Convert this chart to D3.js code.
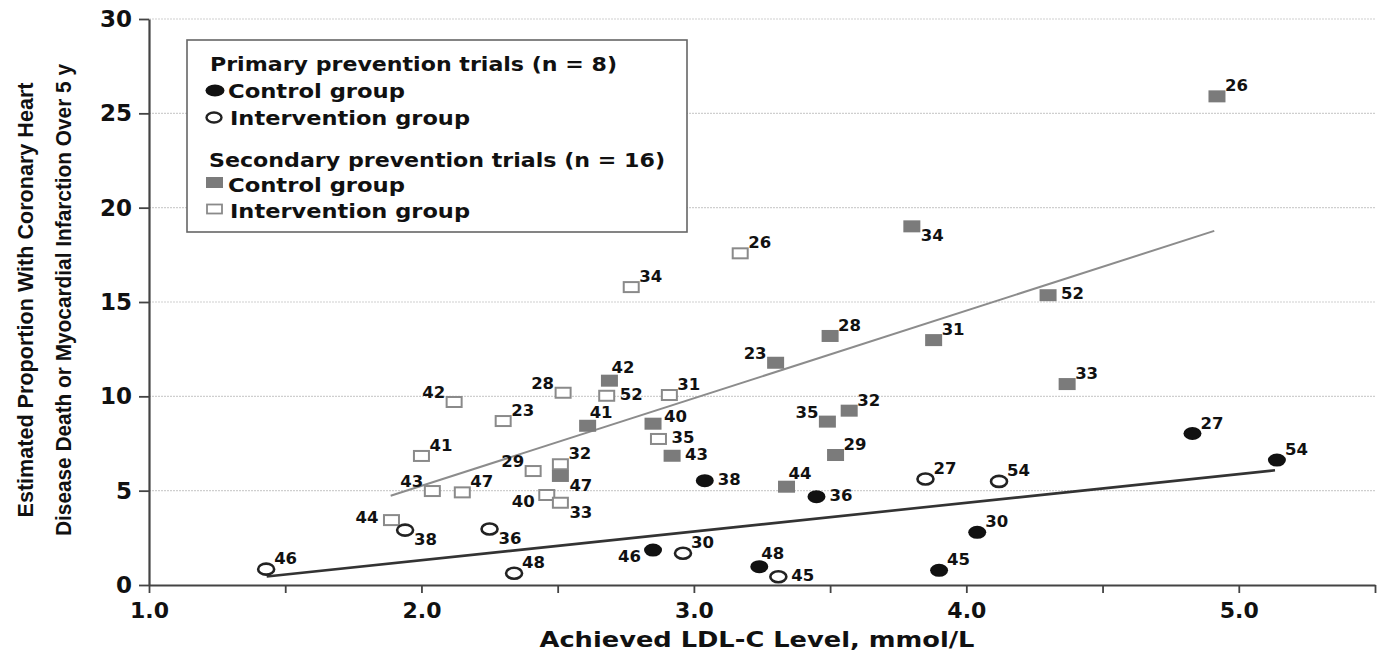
<!DOCTYPE html>
<html><head><meta charset="utf-8">
<script src="https://cdn.jsdelivr.net/npm/d3@7"></script>
<style>body{margin:0;background:#fff}svg{display:block}</style>
</head><body><svg id="c" width="1385" height="662"></svg>
<script>
// ---- data ----
const xTicks = [1.0, 1.5, 2.0, 2.5, 3.0, 3.5, 4.0, 4.5, 5.0, 5.5];
const xTickLabels = ["1.0", "", "2.0", "", "3.0", "", "4.0", "", "5.0", ""];
const yTicks = [0, 5, 10, 15, 20, 25, 30];

// Primary prevention, control group (filled circles)
const pcLabels = ["46", "38", "48", "36", "45", "30", "27", "54"];
const pcX = [2.85, 3.04, 3.24, 3.45, 3.90, 4.04, 4.83, 5.14];
const pcY = [1.85, 5.53, 0.97, 4.68, 0.78, 2.79, 8.03, 6.62];
const pcPos = ["sw", "e", "n", "e", "ne", "ne", "ne", "ne"];

// Primary prevention, intervention group (open circles)
const piLabels = ["46", "38", "36", "48", "30", "45", "27", "54"];
const piX = [1.43, 1.94, 2.25, 2.34, 2.96, 3.31, 3.85, 4.12];
const piY = [0.84, 2.91, 2.97, 0.62, 1.68, 0.44, 5.62, 5.49];
const piPos = ["ne", "se", "se", "ne", "ne", "e", "ne", "ne"];

// Secondary prevention, control group (filled grey squares)
const scLabels = ["26", "34", "52", "31", "33", "28", "23", "35", "32", "29", "44", "42", "41", "40", "43", "47"];
const scX = [4.92, 3.80, 4.30, 3.88, 4.37, 3.50, 3.30, 3.49, 3.57, 3.52, 3.34, 2.69, 2.61, 2.85, 2.92, 2.51];
const scY = [25.9, 19.01, 15.36, 12.98, 10.65, 13.2, 11.78, 8.66, 9.24, 6.89, 5.21, 10.83, 8.44, 8.55, 6.85, 5.78];
const scPos = ["ne", "se", "e", "ne", "ne", "ne", "nw", "nw", "ne", "ne", "n", "n", "n", "ene", "e", "se"];

// Secondary prevention, intervention group (open squares)
const siLabels = ["26", "34", "42", "28", "52", "31", "23", "41", "29", "32", "43", "47", "40", "33", "35", "44"];
const siX = [3.17, 2.77, 2.12, 2.52, 2.68, 2.91, 2.30, 2.00, 2.41, 2.51, 2.04, 2.15, 2.46, 2.51, 2.87, 1.89];
const siY = [17.58, 15.79, 9.70, 10.19, 10.03, 10.07, 8.69, 6.84, 6.04, 6.40, 4.98, 4.91, 4.77, 4.36, 7.74, 3.44];
const siPos = ["ne", "ne", "nw", "nw", "e", "ne", "ne", "ne", "nw", "ne", "nw", "ne", "sw", "se", "e", "w"];

// Fitted lines (end points)
const secFitX = [1.887, 4.91];
const secFitY = [4.73, 18.77];
const priFitX = [1.432, 5.133];
const priFitY = [0.45, 6.08];

const legendTitles = ["Primary prevention trials (n = 8)", "Secondary prevention trials (n = 16)"];
const legendItems = ["Control group", "Intervention group"];
const xTitle = "Achieved LDL-C Level, mmol/L";
const yTitle = ["Estimated Proportion With Coronary Heart", "Disease Death or Myocardial Infarction Over 5 y"];

// ---- drawing ----
const svg = d3.select("#c");
const x = d3.scaleLinear().domain([1, 5.5]).range([149, 1375]);
const y = d3.scaleLinear().domain([0, 30]).range([585, 19]);
const FONT = "'DejaVu Sans', Verdana, sans-serif";

// gridlines
svg.append("g").selectAll("line").data(yTicks.filter(d => d > 0)).join("line")
  .attr("x1", x(1)).attr("x2", x(5.5))
  .attr("y1", d => y(d)).attr("y2", d => y(d))
  .attr("stroke", "#cfcfcf").attr("stroke-width", 1.2).attr("stroke-dasharray", "2,1");

// axes
const gx = svg.append("g").attr("transform", `translate(0,${y(0)})`)
  .call(d3.axisBottom(x).tickValues(xTicks).tickFormat((d, i) => xTickLabels[i]).tickSize(8).tickSizeOuter(0).tickPadding(9));
const gy = svg.append("g").attr("transform", `translate(${x(1)},0)`)
  .call(d3.axisLeft(y).tickValues(yTicks).tickFormat(d3.format("d")).tickSize(10).tickSizeOuter(0).tickPadding(7));
[gx, gy].forEach(g => {
  g.select(".domain").attr("stroke", "#444").attr("stroke-width", 2.2);
  g.selectAll(".tick line").attr("stroke", "#444").attr("stroke-width", 1.8);
  g.selectAll("text").attr("font-family", FONT).attr("font-weight", "bold").attr("fill", "#111");
});
gx.selectAll("text").attr("font-size", 22);
gy.selectAll("text").attr("font-size", 23);

// fit lines
const line = d3.line().x(d => x(d[0])).y(d => y(d[1]));
svg.append("path").datum(d3.zip(secFitX, secFitY)).attr("d", line)
  .attr("fill", "none").attr("stroke", "#8c8c8c").attr("stroke-width", 2);
svg.append("path").datum(d3.zip(priFitX, priFitY)).attr("d", line)
  .attr("fill", "none").attr("stroke", "#333").attr("stroke-width", 2.6);

// markers
function drawSeries(xs, ys, kind) {
  const data = d3.zip(xs, ys);
  const g = svg.append("g");
  if (kind === "pc" || kind === "pi") {
    g.selectAll("ellipse").data(data).join("ellipse")
      .attr("cx", d => x(d[0])).attr("cy", d => y(d[1]))
      .attr("rx", kind === "pc" ? 9 : 8).attr("ry", kind === "pc" ? 6.5 : 5.5)
      .attr("fill", kind === "pc" ? "#111" : "#fff")
      .attr("stroke", kind === "pc" ? "none" : "#222")
      .attr("stroke-width", 2.6);
  } else {
    const w = kind === "sc" ? 17 : 15, h = kind === "sc" ? 12 : 10;
    g.selectAll("rect").data(data).join("rect")
      .attr("x", d => x(d[0]) - w / 2).attr("y", d => y(d[1]) - h / 2)
      .attr("width", w).attr("height", h)
      .attr("fill", kind === "sc" ? "#7b7b7b" : "#fff")
      .attr("stroke", kind === "sc" ? "none" : "#8a8a8a")
      .attr("stroke-width", 2);
  }
}
const offs = {
  ne: [8, -5, "start"], n: [2, -8, "start"], e: [13, 4, "start"], ene: [11, -2, "start"], se: [9, 15, "start"],
  nw: [-9, -4, "end"], w: [-13, 3, "end"], sw: [-12, 12, "end"]
};
function drawLabels(xs, ys, labels, pos) {
  svg.append("g").selectAll("text").data(d3.range(xs.length)).join("text")
    .attr("x", i => x(xs[i]) + offs[pos[i]][0])
    .attr("y", i => y(ys[i]) + offs[pos[i]][1])
    .attr("text-anchor", i => offs[pos[i]][2])
    .attr("font-family", FONT).attr("font-weight", "bold").attr("font-size", 16.5)
    .attr("fill", "#111")
    .text(i => labels[i]);
}
drawSeries(siX, siY, "si");
drawSeries(scX, scY, "sc");
drawSeries(piX, piY, "pi");
drawSeries(pcX, pcY, "pc");
drawLabels(siX, siY, siLabels, siPos);
drawLabels(scX, scY, scLabels, scPos);
drawLabels(piX, piY, piLabels, piPos);
drawLabels(pcX, pcY, pcLabels, pcPos);

// legend
const lg = svg.append("g");
lg.append("rect").attr("x", 187).attr("y", 40).attr("width", 500).attr("height", 192)
  .attr("fill", "#fff").attr("stroke", "#666").attr("stroke-width", 1.6);
const lt = (tx, ty, s, len) => lg.append("text").attr("x", tx).attr("y", ty)
  .attr("font-family", FONT).attr("font-weight", "bold").attr("font-size", 19.5).attr("fill", "#111")
  .attr("textLength", len).attr("lengthAdjust", "spacingAndGlyphs").text(s);
lt(210, 71, legendTitles[0], 407);
lt(228, 98, legendItems[0], 177);
lt(230, 125, legendItems[1], 240);
lt(209, 167, legendTitles[1], 456);
lt(228, 192, legendItems[0], 177);
lt(230, 218, legendItems[1], 240);
lg.append("ellipse").attr("cx", 215).attr("cy", 90.5).attr("rx", 9.5).attr("ry", 6).attr("fill", "#111");
lg.append("ellipse").attr("cx", 214).attr("cy", 117.5).attr("rx", 7.5).attr("ry", 5).attr("fill", "#fff").attr("stroke", "#222").attr("stroke-width", 2.4);
lg.append("rect").attr("x", 206).attr("y", 177).attr("width", 17).attr("height", 11).attr("fill", "#7b7b7b");
lg.append("rect").attr("x", 207).attr("y", 204.5).attr("width", 15).attr("height", 9).attr("fill", "#fff").attr("stroke", "#8a8a8a").attr("stroke-width", 1.8);

// axis titles
svg.append("text").attr("x", 757).attr("y", 647).attr("text-anchor", "middle")
  .attr("font-family", FONT).attr("font-weight", "bold").attr("font-size", 20.5).attr("fill", "#111")
  .attr("textLength", 435).attr("lengthAdjust", "spacingAndGlyphs").text(xTitle);
const YF = "'Liberation Sans Narrow', 'Arial Narrow', 'Liberation Sans', sans-serif";
[[33, 435], [71, 472]].forEach((p, i) => {
  svg.append("text").attr("transform", `translate(${p[0]},300) rotate(-90)`)
    .attr("text-anchor", "middle").attr("font-family", YF).attr("font-weight", "bold")
    .attr("font-size", 22).attr("fill", "#111")
    .attr("textLength", p[1]).attr("lengthAdjust", "spacingAndGlyphs").text(yTitle[i]);
});
</script>
</body></html>
